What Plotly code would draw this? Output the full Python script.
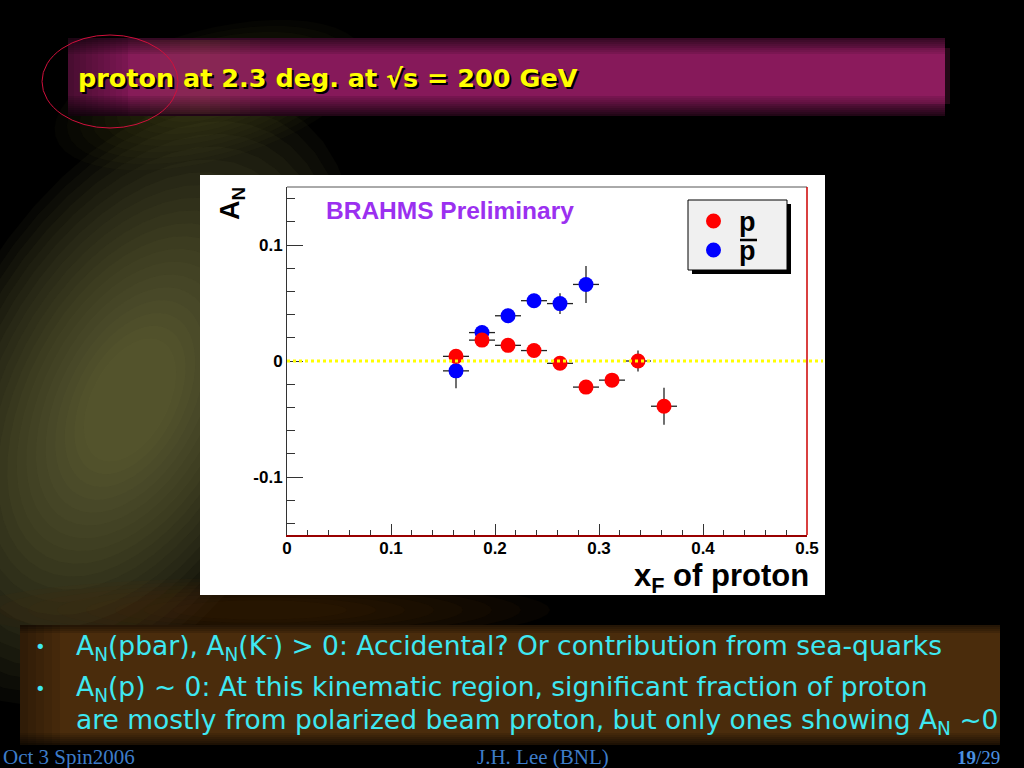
import math
import plotly.graph_objects as go

# ---------------- data ----------------
x_bins = [0.1625, 0.1875, 0.2125, 0.2375, 0.2625, 0.2875, 0.3125, 0.3375, 0.3625]
p_AN = [0.004, 0.018, 0.0135, 0.009, -0.002, -0.0225, -0.0165, 0.000, -0.039]
p_err = [0.005, 0.005, 0.005, 0.005, 0.005, 0.006, 0.006, 0.009, 0.016]
pbar_x = [0.1625, 0.1875, 0.2125, 0.2375, 0.2625, 0.2875]
pbar_AN = [-0.0085, 0.0245, 0.039, 0.052, 0.0495, 0.066]
pbar_err = [0.015, 0.006, 0.006, 0.006, 0.009, 0.016]
x_half_width = 0.0125

x_tickvals = [0, 0.1, 0.2, 0.3, 0.4, 0.5]
x_ticktext = ["0", "0.1", "0.2", "0.3", "0.4", "0.5"]
y_tickvals = [-0.1, 0, 0.1]
y_ticktext = ["-0.1", "0", "0.1"]

title_text = "proton at 2.3 deg. at √s = 200 GeV"
bullet_lines = [
    "A<sub>N</sub>(pbar), A<sub>N</sub>(K<sup>-</sup>) > 0: Accidental? Or contribution from sea-quarks",
    "A<sub>N</sub>(p) ~ 0: At this kinematic region, significant fraction of proton",
    "are mostly from polarized beam proton, but only ones showing A<sub>N</sub> ~0",
]

W, H = 1024, 768


def PX(x):
    return x / W


def PY(y):
    return 1 - y / H


def rect(x0, y0, x1, y1, color, opacity=1.0, layer="below", line=None):
    return dict(type="rect", xref="paper", yref="paper",
                x0=PX(x0), x1=PX(x1), y0=PY(y1), y1=PY(y0),
                fillcolor=color, opacity=opacity, layer=layer,
                line=line if line else dict(width=0))


def ellipse_path(cx, cy, a, b, ang_deg, color, opacity):
    ang = math.radians(ang_deg)
    pts = []
    for k in range(48):
        t = 2 * math.pi * k / 48
        ex, ey = a * math.cos(t), b * math.sin(t)
        pts.append((cx + ex * math.cos(ang) - ey * math.sin(ang),
                    cy + ex * math.sin(ang) + ey * math.cos(ang)))
    path = "M " + " L ".join(f"{PX(x):.4f},{PY(y):.4f}" for x, y in pts) + " Z"
    return dict(type="path", xref="paper", yref="paper", path=path,
                fillcolor=color, opacity=opacity, layer="below", line=dict(width=0))


fig = go.Figure()

err_style = dict(color="#222222", thickness=1.3, width=0)
fig.add_trace(go.Scatter(
    x=pbar_x, y=pbar_AN, mode="markers", name="p̄", showlegend=False,
    marker=dict(color="#0000ff", size=15),
    error_x=dict(type="constant", value=x_half_width, **err_style),
    error_y=dict(type="data", array=pbar_err, **err_style),
))
fig.add_trace(go.Scatter(
    x=x_bins, y=p_AN, mode="markers", name="p", showlegend=False,
    marker=dict(color="#ff0000", size=15),
    error_x=dict(type="constant", value=x_half_width, **err_style),
    error_y=dict(type="data", array=p_err, **err_style),
))

shapes = []
# soft olive glow on the left
for i in range(20):
    s = 1 - i * 0.042
    shapes.append(ellipse_path(130, 400, 330 * s, 190 * s, -62, "#8f8545", 0.05))
for i in range(10):
    s = 1 - i * 0.08
    shapes.append(ellipse_path(210, 95, 160 * s, 65 * s, -15, "#7a7030", 0.045))
for i in range(8):
    s = 1 - i * 0.1
    shapes.append(ellipse_path(260, 610, 290 * s, 32 * s, 0, "#4a2c10", 0.09))

# title band with soft edges
shapes.append(rect(68, 38, 945, 116, "#86195a"))
for i in range(8):
    shapes.append(rect(68, 38 + i * 2, 945, 40 + i * 2, "#000000", 0.6 - i * 0.07))
for i in range(10):
    shapes.append(rect(68, 116 - (i + 1) * 2, 945, 116 - i * 2, "#000000", 0.75 - i * 0.07))
for i in range(10):
    shapes.append(rect(68 + i * 6, 38, 74 + i * 6, 116, "#000000", 0.45 - i * 0.04))
for i in range(16):
    op = 0.14 * (1 - abs(i - 7.5) / 8.0)
    shapes.append(rect(120 + i * 10, 40, 130 + i * 10, 114, "#a09030", op))
for i in range(25):
    op = 0.2 * (i / 24.0)
    shapes.append(rect(700 + i * 10, 48, 710 + i * 10, 104, "#b02a70", op))

# bottom band
shapes.append(rect(20, 625, 1000, 745, "#4a2c0c"))
for i in range(4):
    shapes.append(rect(20, 625 + i * 2, 1000, 627 + i * 2, "#000000", 0.5 - i * 0.12))
for i in range(6):
    shapes.append(rect(20, 745 - (i + 1) * 2, 1000, 745 - i * 2, "#000000", 0.6 - i * 0.1))
for i in range(5):
    shapes.append(rect(20 + i * 8, 625, 28 + i * 8, 745, "#000000", 0.35 - i * 0.07))

# white chart panel
shapes.append(rect(200, 175, 825, 595, "#ffffff"))

# frame top & right
shapes.append(dict(type="line", xref="paper", yref="paper", x0=PX(287), x1=PX(807),
                   y0=PY(187), y1=PY(187), line=dict(color="#555555", width=1), layer="above"))
shapes.append(dict(type="line", xref="paper", yref="paper", x0=PX(807), x1=PX(807),
                   y0=PY(187), y1=PY(535), line=dict(color="#cc0000", width=1.5), layer="above"))

# zero line (yellow dotted)
shapes.append(dict(type="line", xref="paper", yref="y", x0=PX(287), x1=PX(823), y0=0, y1=0,
                   line=dict(color="#ffff00", width=3, dash="dot"), layer="above"))

# legend box
shapes.append(rect(692, 204, 791, 274, "#000000", layer="above"))
shapes.append(rect(688, 200, 787, 270, "#f0f0f0", layer="above", line=dict(color="#000000", width=1)))
for cy, col in [(221, "#ff0000"), (250, "#0000ff")]:
    shapes.append(dict(type="circle", xref="paper", yref="paper",
                       x0=PX(706), x1=PX(721), y0=PY(cy + 7.5), y1=PY(cy - 7.5),
                       fillcolor=col, line=dict(width=0), layer="above"))
shapes.append(dict(type="line", xref="paper", yref="paper", x0=PX(740), x1=PX(757),
                   y0=PY(240), y1=PY(240), line=dict(color="#000000", width=2.5), layer="above"))

# red ellipse around title start
shapes.append(dict(type="circle", xref="paper", yref="paper", x0=PX(42), x1=PX(178),
                   y0=PY(128), y1=PY(35), line=dict(color="#d0103c", width=1), layer="above"))

ann = []
sans = "Liberation Sans"
# title shadow and text
ann.append(dict(text=f"<b>{title_text}</b>", x=PX(78), y=PY(80), xref="paper", yref="paper",
                xanchor="left", yanchor="middle", showarrow=False,
                font=dict(family="DejaVu Sans", size=25.5, color="#000000")))
ann.append(dict(text=f"<b>{title_text}</b>", x=PX(76), y=PY(78), xref="paper", yref="paper",
                xanchor="left", yanchor="middle", showarrow=False,
                font=dict(family="DejaVu Sans", size=25.5, color="#ffff00")))

# chart texts
ann.append(dict(text="<b>BRAHMS Preliminary</b>", x=PX(324), y=PY(211), xref="paper", yref="paper",
                xanchor="left", yanchor="middle", showarrow=False,
                font=dict(family=sans, size=24.5, color="#9b30f0")))
ann.append(dict(text="<b>A<sub>N</sub></b>", x=PX(232), y=PY(204), xref="paper", yref="paper",
                xanchor="center", yanchor="middle", showarrow=False, textangle=-90,
                font=dict(family=sans, size=27, color="#000000")))
ann.append(dict(text="<b>x<sub>F</sub> of proton</b>", x=PX(811), y=PY(578), xref="paper", yref="paper",
                xanchor="right", yanchor="middle", showarrow=False,
                font=dict(family=sans, size=31, color="#000000")))
ann.append(dict(text="<b>p</b>", x=PX(737), y=PY(222), xref="paper", yref="paper",
                xanchor="left", yanchor="middle", showarrow=False,
                font=dict(family=sans, size=27, color="#000000")))
ann.append(dict(text="<b>p</b>", x=PX(737), y=PY(251), xref="paper", yref="paper",
                xanchor="left", yanchor="middle", showarrow=False,
                font=dict(family=sans, size=27, color="#000000")))

# bullets
cyan = "#3ee8f2"
for yy in [646, 688]:
    ann.append(dict(text="•", x=PX(40), y=PY(yy), xref="paper", yref="paper",
                    xanchor="center", yanchor="middle", showarrow=False,
                    font=dict(family="DejaVu Sans", size=18, color=cyan)))
for line, yy in zip(bullet_lines, [646, 688, 721]):
    ann.append(dict(text=line, x=PX(74), y=PY(yy), xref="paper", yref="paper",
                    xanchor="left", yanchor="middle", showarrow=False,
                    font=dict(family="DejaVu Sans", size=26.5, color=cyan)))

# footer
foot = "#3d7cc9"
ann.append(dict(text="Oct 3 Spin2006", x=PX(1), y=PY(757), xref="paper", yref="paper",
                xanchor="left", yanchor="middle", showarrow=False,
                font=dict(family="Liberation Serif", size=21, color=foot)))
ann.append(dict(text="J.H. Lee (BNL)", x=PX(543), y=PY(757), xref="paper", yref="paper",
                xanchor="center", yanchor="middle", showarrow=False,
                font=dict(family="Liberation Serif", size=21, color=foot)))
ann.append(dict(text="<b>19</b>/29", x=PX(1002), y=PY(757), xref="paper", yref="paper",
                xanchor="right", yanchor="middle", showarrow=False,
                font=dict(family="Liberation Serif", size=19, color="#4a90e0")))

tickfont = dict(family=sans, size=17, color="#000000", weight="bold")
fig.update_layout(
    template="none",
    width=W, height=H, autosize=False, margin=dict(l=0, r=0, t=0, b=0, pad=0),
    paper_bgcolor="#000000", plot_bgcolor="#ffffff",
    showlegend=False,
    shapes=shapes, annotations=ann,
    xaxis=dict(domain=[PX(287), PX(807)], range=[0, 0.5], automargin=False,
               tickmode="array", tickvals=x_tickvals, ticktext=x_ticktext,
               ticks="inside", ticklen=11, tickwidth=1, tickcolor="#333333",
               ticklabelstandoff=-3,
               minor=dict(tickmode="linear", tick0=0, dtick=0.02, ticks="inside",
                          ticklen=5, tickwidth=1, tickcolor="#333333", showgrid=False),
               showline=True, linecolor="#990000", linewidth=1.5,
               showgrid=False, zeroline=False, tickfont=tickfont),
    yaxis=dict(domain=[PY(535), PY(187)], range=[-0.15, 0.15], automargin=False,
               tickmode="array", tickvals=y_tickvals, ticktext=y_ticktext,
               ticks="inside", ticklen=16, tickwidth=1, tickcolor="#333333",
               minor=dict(tickmode="linear", tick0=0, dtick=0.02, ticks="inside",
                          ticklen=8, tickwidth=1, tickcolor="#333333", showgrid=False),
               showline=True, linecolor="#333333", linewidth=1,
               showgrid=False, zeroline=False, tickfont=tickfont),
)

fig.write_html(
    "out.html",
    config={"displayModeBar": False, "responsive": False},
    post_script=("document.documentElement.style.margin='0';"
                 "document.documentElement.style.overflow='hidden';"
                 "document.body.style.margin='0';"
                 "document.body.style.overflow='hidden';"
                 "document.body.style.background='#000';"),
)
